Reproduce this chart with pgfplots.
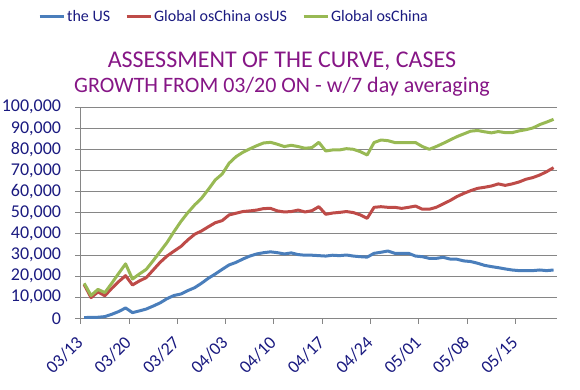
\documentclass[border=0pt]{standalone}
\usepackage{pgfplots}
\pgfplotsset{compat=1.18}
\usepackage{fontspec}
\setmainfont{Carlito}
\definecolor{cblue}{HTML}{4A7EBB}
\definecolor{cred}{HTML}{BE4B48}
\definecolor{cgreen}{HTML}{98B954}
\definecolor{gridgray}{HTML}{868686}
\definecolor{navytxt}{HTML}{1A1A80}
\definecolor{titlepurple}{HTML}{861686}
\begin{document}
\begin{tikzpicture}[x=1pt,y=1pt]
\path[use as bounding box] (0,0) rectangle (580,-389);
\begin{axis}[
  at={(80.7pt,-318.3pt)}, anchor=south west,
  scale only axis, width=476.3pt, height=211pt,
  xmin=-0.5, xmax=68.5, ymin=0, ymax=100000,
  xtick={-0.5,6.5,13.5,20.5,27.5,34.5,41.5,48.5,55.5,62.5},
  xticklabels={03/13,03/20,03/27,04/03,04/10,04/17,04/24,05/01,05/08,05/15},
  ytick={0,10000,...,100000},
  scaled y ticks=false,
  /pgf/number format/.cd, fixed, 1000 sep={,}, assume math mode=true,
  /pgfplots/.cd,
  ymajorgrids, grid style={draw=gridgray, line width=1pt},
  separate axis lines,
  axis x line*=bottom, axis y line*=left,
  axis line style={draw=gridgray, line width=1pt, -},
  tick style={draw=gridgray, line width=1pt},
  tick align=outside, major tick length=5.5pt,
  yticklabel style={font=\fontsize{18}{18}\selectfont, text=navytxt, inner sep=0pt, xshift=-14pt},
  xticklabel style={font=\fontsize{18}{18}\selectfont, text=navytxt, inner sep=0pt, rotate=45, anchor=east, xshift=-11.7pt, yshift=-10.5pt},
  legend columns=3,
  legend style={at={(-0.0897,1.428)}, anchor=west, draw=none, fill=none,
    inner sep=0pt, font=\fontsize{16}{16}\selectfont, text=navytxt,
    /tikz/every even column/.append style={column sep=13pt}},
  legend cell align=left,
  legend image post style={line width=3pt},
  legend image code/.code={\draw[#1] (0,0) -- (24pt,0);},
  title={\fontsize{24}{24}\selectfont ASSESSMENT OF THE CURVE, CASES\\[6pt]\fontsize{22}{22}\selectfont GROWTH FROM 03/20 ON - w/7 day averaging},
  title style={at={(0.4226,1)}, anchor=south, align=center, text=titlepurple, yshift=1pt},
  every axis plot/.append style={line width=3pt, line join=round},
]
\addplot[cblue] table {
x y
0 300
1 500
2 500
3 800
4 1900
5 3200
6 4900
7 2700
8 3500
9 4400
10 5800
11 7300
12 9300
13 10800
14 11500
15 13100
16 14500
17 16600
18 19000
19 21000
20 23200
21 25300
22 26500
23 28100
24 29500
25 30500
26 31100
27 31500
28 31100
29 30500
30 31000
31 30200
32 29900
33 29900
34 29700
35 29500
36 29900
37 29700
38 30000
39 29500
40 29200
41 29000
42 30800
43 31300
44 31900
45 30800
46 30800
47 30800
48 29500
49 29200
50 28400
51 28400
52 28900
53 28100
54 28000
55 27200
56 26900
57 26100
58 25100
59 24500
60 24000
61 23400
62 22900
63 22600
64 22600
65 22600
66 22900
67 22600
68 22900
};
\addlegendentry{the US}
\addplot[cred] table {
x y
0 16000
1 9800
2 12500
3 10700
4 14200
5 17400
6 20200
7 15800
8 17700
9 19300
10 22900
11 26500
12 29500
13 31800
14 34000
15 37100
16 39800
17 41400
18 43400
19 45300
20 46300
21 49000
22 49800
23 50600
24 50900
25 51300
26 52000
27 52100
28 50900
29 50400
30 50600
31 51300
32 50400
33 51000
34 52900
35 49300
36 49900
37 50200
38 50600
39 50100
40 49000
41 47400
42 52600
43 52900
44 52600
45 52600
46 52100
47 52600
48 53200
49 51700
50 51700
51 52600
52 54200
53 55800
54 57700
55 59200
56 60500
57 61600
58 62100
59 62700
60 63700
61 63000
62 63700
63 64600
64 65900
65 66700
66 67900
67 69500
68 71400
};
\addlegendentry{Global osChina osUS}
\addplot[cgreen] table {
x y
0 16600
1 10800
2 13700
3 12200
4 16600
5 21300
6 25800
7 18600
8 21000
9 23200
10 27300
11 31600
12 35900
13 41000
14 45800
15 50000
16 53700
17 56900
18 61100
19 65600
20 68400
21 73500
22 76600
23 78700
24 80300
25 81800
26 83100
27 83400
28 82500
29 81400
30 82000
31 81400
32 80600
33 80900
34 83400
35 79300
36 79800
37 79800
38 80400
39 80100
40 79000
41 77400
42 83300
43 84500
44 84200
45 83300
46 83300
47 83300
48 83300
49 81400
50 80100
51 81400
52 82900
53 84500
54 86100
55 87400
56 88700
57 89000
58 88400
59 87900
60 88500
61 88000
62 88000
63 88800
64 89400
65 90200
66 91800
67 93000
68 94300
};
\addlegendentry{Global osChina}
\end{axis}
\end{tikzpicture}
\end{document}
